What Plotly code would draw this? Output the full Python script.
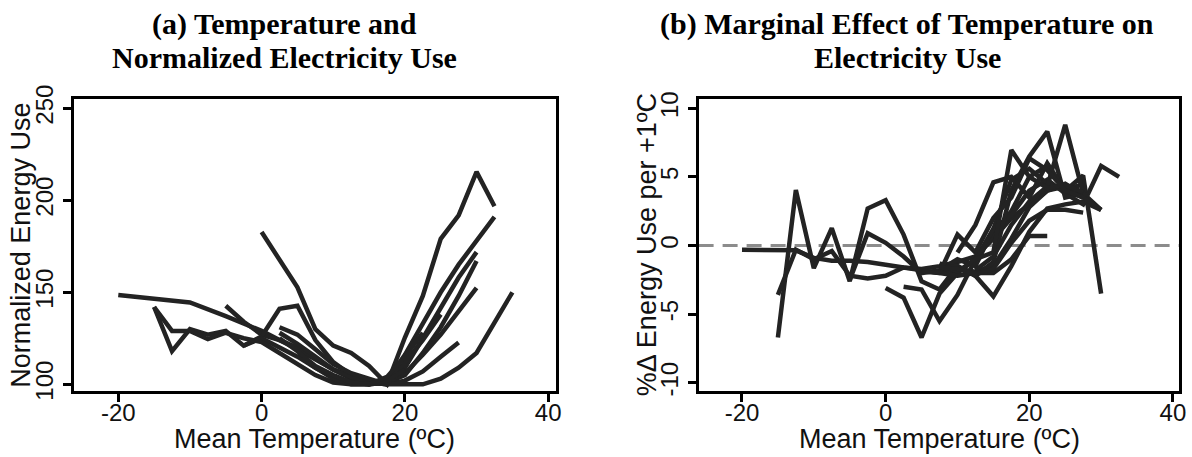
import plotly.graph_objects as go

# ---------------- Panel (a): Normalized energy use vs mean temperature ----------------
A1_T = [-20, -10, -5, 0, 5, 10, 15, 17.5, 20, 22.5, 25, 27.5]
A1_E = [148.5, 144.5, 137, 129, 119, 108, 101, 100, 102, 107, 115, 122.7]
A2_T = [0, 2.5, 5, 7.5, 10, 12.5, 15, 17.5, 20, 22.5, 25, 27.5, 30, 32.5]
A2_E = [182.7, 168, 152.7, 130, 121, 117, 110, 100, 125.4, 148, 179, 191.8, 215.4, 196.7]
A3_T = [-5, -2.5, 0, 2.5, 5, 7.5, 10, 12.5, 15, 17.5, 20, 22.5, 25, 27.5, 30, 32.5]
A3_E = [142.7, 134, 127, 124, 120, 114, 108, 103, 100, 102, 116, 133, 150, 165, 178, 191]
A4_T = [-2.5, 0, 2.5, 5, 7.5, 10, 12.5, 15, 17.5, 20, 22.5, 25, 27.5, 30]
A4_E = [121, 126, 141, 142.7, 124, 112, 105, 101, 100, 109, 125, 142, 158, 171.8]
A5_T = [-15, -12.5, -10, -7.5, -5, -2.5, 0, 2.5, 5, 7.5, 10, 12.5, 15, 17.5, 20, 22.5, 25, 27.5, 30]
A5_E = [142, 118, 130, 127, 129, 121, 125, 120, 115, 109, 104, 101, 100, 101, 105, 117, 131, 148, 167]
A6_T = [-15, -12.5, -10, -7.5, -5, -2.5, 0, 2.5, 5, 7.5, 10, 12.5, 15, 17.5, 20, 22.5, 25, 27.5, 30]
A6_E = [142, 129, 129, 124.5, 128, 125, 123, 117, 111, 105, 101, 100, 100, 101, 106, 116, 127, 140, 152.4]
A7_T = [2.5, 5, 7.5, 10, 12.5, 15, 17.5, 20, 22.5, 25, 27.5, 30, 32.5, 35]
A7_E = [128, 122, 115, 108, 104, 101, 100, 100, 100, 103, 109, 117, 133, 150]
A8_T = [2.5, 5, 7.5, 10, 12.5, 15, 17.5, 20, 22.5, 25]
A8_E = [131, 127, 119, 111, 106, 103, 100, 112, 124, 138]
A9_T = [5, 7.5, 10, 12.5, 15, 17.5, 20]
A9_E = [116, 109, 103, 100, 100, 102, 108]
A10_T = [2.5, 5, 7.5, 10, 12.5, 15, 17.5, 20, 22.5]
A10_E = [125, 118, 110, 105, 101, 100, 104, 115, 128]

# ---------------- Panel (b): % change in energy use per +1 C ----------------
B1_T = [-20, -17.5, -15, -12.5, -10, -7.5, -5, -2.5, 0, 2.5, 5, 7.5, 10, 12.5, 15, 17.5, 20, 22.5, 25, 27.5]
B1_D = [-0.3, -0.3, -0.3, -0.35, -0.9, -1.1, -1.1, -1.2, -1.4, -1.6, -1.7, -1.5, -1.2, -0.8, 0.5, 2.0, 3.0, 4.0, 4.5, 3.7]
B2_T = [-15, -12.5, -10, -7.5, -5, -2.5, 0, 2.5, 5, 7.5, 10, 12.5, 15, 17.5, 20, 22.5, 25, 27.5, 30]
B2_D = [-6.7, 4.05, -1.65, 1.27, -2.6, 2.7, 3.3, 0.8, -2.6, -3.2, -1.5, -2.2, -3.7, -1.5, 1.0, 2.7, 3.0, 3.2, 2.6]
B3_T = [-15, -12.5, -10, -7.5, -5, -2.5, 0, 2.5, 5, 7.5, 10, 12.5, 15, 17.5, 20, 22.5, 25, 27.5]
B3_D = [-3.6, -0.3, -1.0, -0.4, -2.2, -2.4, -2.2, -1.6, -1.8, -2.0, -1.7, -1.9, -1.5, 0.5, 2.8, 4.0, 4.3, 3.5]
B4_T = [-5, -2.5, 0, 2.5, 5, 7.5, 10, 12.5, 15, 17.5, 20, 22.5, 25, 27.5, 30]
B4_D = [-2.5, 0.9, 0.2, -0.8, -2.0, -1.8, -1.0, -1.5, 1.2, 4.8, 5.6, 4.5, 4.0, 5.1, -3.5]
B5_T = [0, 2.5, 5, 7.5, 10, 12.5, 15, 17.5, 20, 22.5, 25, 27.5]
B5_D = [-3.1, -3.8, -6.7, -3.5, -2.0, -1.0, 0.8, 2.5, 5.0, 5.8, 4.0, 4.5]
B6_T = [2.5, 5, 7.5, 10, 12.5, 15, 17.5, 20, 22.5, 25, 27.5, 30, 32.5]
B6_D = [-3.0, -3.2, -5.5, -3.6, -1.0, 1.2, 2.2, 4.0, 4.8, 3.8, 3.0, 5.8, 5.0]
B7_T = [7.5, 10, 12.5, 15, 17.5, 20, 22.5, 25, 27.5]
B7_D = [-1.6, -1.5, -2.2, -1.2, 4.0, 6.5, 8.3, 3.5, 3.8]
B8_T = [12.5, 15, 17.5, 20, 22.5, 25, 27.5, 30]
B8_D = [-1.8, -0.8, 1.5, 3.2, 4.3, 8.8, 3.8, 2.6]
B9_T = [7.5, 10, 12.5, 15, 17.5, 20, 22.5, 25, 27.5]
B9_D = [-1.3, -1.9, -1.0, -0.5, 6.96, 5.0, 4.2, 4.4, 3.9]
B10_T = [10, 12.5, 15, 17.5, 20, 22.5, 25, 27.5]
B10_D = [-0.5, 1.5, 4.6, 5.0, 3.5, 6.0, 4.0, 3.5]
B11_T = [7.5, 10, 12.5, 15, 17.5, 20, 22.5, 25, 27.5, 30]
B11_D = [-2.0, 0.8, -0.5, 2.0, 3.5, 6.35, 5.5, 4.0, 3.5, 2.6]
B12_T = [5, 7.5, 10, 12.5, 15, 17.5, 20, 22.5]
B12_D = [-1.9, -2.0, -2.2, -2.0, -2.0, -1.0, 0.7, 0.7]
B13_T = [7.5, 10, 12.5, 15, 17.5, 20, 22.5, 25, 27.5]
B13_D = [-1.6, -1.7, -2.1, -1.7, 0.2, 1.8, 2.6, 2.6, 2.4]

X_TICKS = [-20, 0, 20, 40]
X_TICK_TEXT = ["-20", "0", "20", "40"]
YA_TICKS = [100, 150, 200, 250]
YA_TICK_TEXT = ["100", "150", "200", "250"]
YB_TICKS = [-10, -5, 0, 5, 10]
YB_TICK_TEXT = ["-10", "-5", "0", "5", "10"]

TITLE_A = ["(a) Temperature and", "Normalized Electricity Use"]
TITLE_B = ["(b) Marginal Effect of Temperature on", "Electricity Use"]
XLABEL = "Mean Temperature (ºC)"
YLABEL_A = "Normalized Energy Use"
YLABEL_B = "%Δ Energy Use per +1ºC"

panel_a = [(A1_T, A1_E), (A2_T, A2_E), (A3_T, A3_E), (A4_T, A4_E), (A5_T, A5_E),
           (A6_T, A6_E), (A7_T, A7_E), (A8_T, A8_E), (A9_T, A9_E), (A10_T, A10_E)]
panel_b = [(B1_T, B1_D), (B2_T, B2_D), (B3_T, B3_D), (B4_T, B4_D), (B5_T, B5_D),
           (B6_T, B6_D), (B7_T, B7_D), (B8_T, B8_D), (B9_T, B9_D), (B10_T, B10_D),
           (B11_T, B11_D), (B12_T, B12_D), (B13_T, B13_D)]

LINE_COLOR = "#232323"
W, H = 1192, 457


def fx(p):
    return p / W


def fy(p):
    return 1 - p / H


fig = go.Figure()
for t, e in panel_a:
    fig.add_trace(go.Scatter(x=t, y=e, mode="lines", xaxis="x", yaxis="y",
                             line=dict(color=LINE_COLOR, width=4.5), hoverinfo="skip"))
for t, d in panel_b:
    fig.add_trace(go.Scatter(x=t, y=d, mode="lines", xaxis="x2", yaxis="y2",
                             line=dict(color=LINE_COLOR, width=4.5), hoverinfo="skip"))

# zero reference line in panel (b)
fig.add_shape(type="line", xref="x2 domain", x0=0, x1=1, yref="y2", y0=0, y1=0,
              line=dict(color="#8c8c8c", width=3, dash="15px,9px"), layer="below")

SANS = "Liberation Sans, Arial, sans-serif"
SERIF = "Liberation Serif, Times New Roman, serif"

ax_common = dict(showline=True, mirror=True, linewidth=3, linecolor="black",
                 ticks="outside", ticklen=8, tickwidth=3, tickcolor="black",
                 showgrid=False, zeroline=False, automargin=False,
                 tickfont=dict(family=SANS, size=24, color="#111111"))

yd = [fy(391), fy(99.4)]
fig.update_layout(
    width=W, height=H, autosize=False, showlegend=False,
    margin=dict(l=0, r=0, t=0, b=0, pad=0),
    paper_bgcolor="white", plot_bgcolor="white",
    xaxis=dict(domain=[fx(73.5), fx(556.3)], range=[-26.25, 41.13], tickvals=X_TICKS,
               ticktext=X_TICK_TEXT, anchor="y", ticklabelstandoff=-10, **ax_common),
    yaxis=dict(domain=yd, range=[96.35, 254.8], tickvals=YA_TICKS, ticktext=YA_TICK_TEXT,
               tickangle=-90, anchor="x", ticklabelstandoff=0, **ax_common),
    xaxis2=dict(domain=[fx(698.6), fx(1179.4)], range=[-26.04, 40.9], tickvals=X_TICKS,
                ticktext=X_TICK_TEXT, anchor="y2", ticklabelstandoff=-10, **ax_common),
    yaxis2=dict(domain=yd, range=[-10.6, 10.65], tickvals=YB_TICKS, ticktext=YB_TICK_TEXT,
                tickangle=-90, anchor="x2", ticklabelstandoff=0, **ax_common),
)

ann = []
for cx, lines in ((284, TITLE_A), (907, TITLE_B)):
    for ly, txt in zip((24, 57), lines):
        ann.append(dict(text="<b>%s</b>" % txt, x=fx(cx), y=fy(ly), xref="paper", yref="paper",
                        xanchor="center", yanchor="middle", showarrow=False,
                        font=dict(family=SERIF, size=30, color="black")))
for xr in ("x domain", "x2 domain"):
    ann.append(dict(text=XLABEL, x=0.5, y=fy(439), xref=xr, yref="paper",
                    xanchor="center", yanchor="middle", showarrow=False,
                    font=dict(family=SANS, size=27, color="#111111")))
ann.append(dict(text=YLABEL_A, x=fx(21.5), y=0.5, xref="paper", yref="y domain",
                xanchor="center", yanchor="middle", textangle=-90, showarrow=False,
                font=dict(family=SANS, size=27, color="#111111")))
ann.append(dict(text=YLABEL_B, x=fx(647), y=0.5, xref="paper", yref="y2 domain",
                xanchor="center", yanchor="middle", textangle=-90, showarrow=False,
                font=dict(family=SANS, size=27, color="#111111")))
fig.update_layout(annotations=ann)

fig.write_html("out.html", config={"displayModeBar": False, "staticPlot": True},
               post_script="document.body.style.margin='0px';document.body.style.overflow='hidden';")
